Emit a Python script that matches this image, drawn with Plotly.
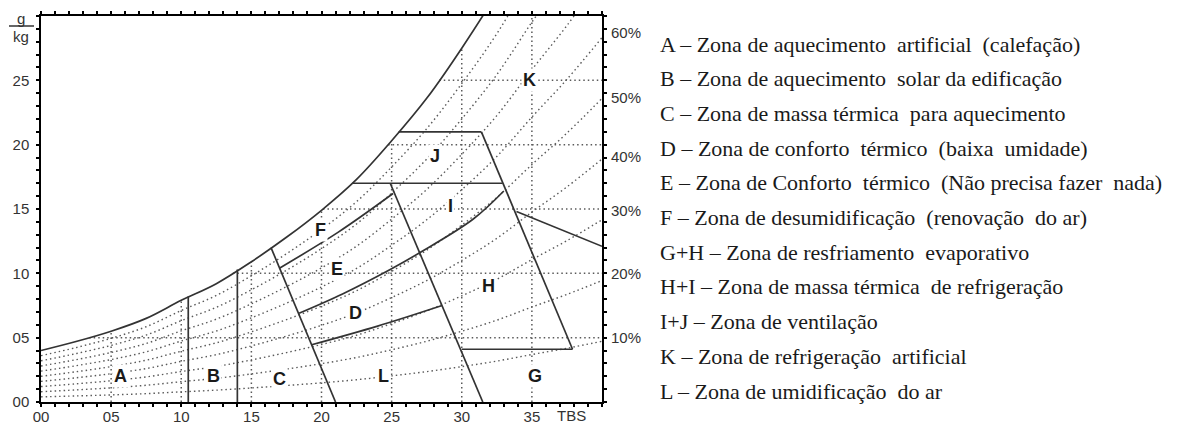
import numpy as np
import plotly.graph_objects as go

# saturation curve (TBS in C, humidity in g/kg)
sat_t = [0, 2.5, 5, 7.5, 10, 12.5, 15, 17.5, 20, 22.5, 25, 27.5, 30, 32.5, 35, 37.5, 40]
sat_w = [4.0, 4.7, 5.5, 6.5, 7.9, 9.2, 10.9, 12.8, 14.9, 17.3, 20.3, 23.6, 27.5, 31.8, 36.9, 41.8, 47.2]

# relative humidity curves (dotted)
rh_levels = [10, 20, 30, 40, 50, 60, 70, 80, 90]
rh_label_text = ["10%", "20%", "30%", "40%", "50%", "60%"]
rh_label_y = [5.0, 10.0, 14.9, 19.1, 23.7, 28.7]

grid_x = [5, 10, 15, 20, 25, 30, 35]
grid_y = [5, 10, 15, 20, 25]

x_label_vals = [0, 5, 10, 15, 20, 25, 30, 35]
x_label_text = ["00", "05", "10", "15", "20", "25", "30", "35"]
y_label_vals = [0, 5, 10, 15, 20, 25]
y_label_text = ["00", "05", "10", "15", "20", "25"]

# zone boundaries
ab_x, ab_y = [10.5, 10.5], [0, 8.2]
bc_x, bc_y = [14.0, 14.0], [0, 10.3]
c_x, c_y = [16.4, 21.0], [12.0, 0]
ei_x, ei_y = [24.9, 31.5], [17.0, 0]
j_bot_x, j_bot_y = [22.2, 32.9], [17.0, 17.0]
j_top_x, j_top_y = [25.5, 31.4], [21.0, 21.0]
right_x, right_y = [31.4, 37.9], [21.0, 4.1]
g_top_x, g_top_y = [30.0, 37.9], [4.1, 4.1]
k_x, k_y = [33.9, 40.0], [14.8, 12.1]
fe_x, fe_y = [17.0, 21.2, 25.1], [10.4, 13.2, 16.2]
ed_x, ed_y = [18.4, 21.5, 24.9, 27.0, 30.8, 33.0], [6.9, 8.4, 10.3, 11.6, 14.2, 16.4]
dl_x, dl_y = [19.3, 24.0, 28.6], [4.45, 5.9, 7.5]

straight = [(ab_x, ab_y), (bc_x, bc_y), (c_x, c_y), (ei_x, ei_y), (j_bot_x, j_bot_y),
            (j_top_x, j_top_y), (right_x, right_y), (g_top_x, g_top_y), (k_x, k_y)]
curved = [(fe_x, fe_y), (ed_x, ed_y), (dl_x, dl_y)]

zone_letters = ["A", "B", "C", "D", "E", "F", "G", "H", "I", "J", "K", "L"]
zone_x = [5.7, 12.3, 17.0, 22.4, 21.1, 19.9, 35.2, 31.9, 29.2, 28.1, 34.8, 24.4]
zone_y = [2.0, 2.0, 1.8, 6.9, 10.3, 13.4, 2.0, 9.0, 15.2, 19.1, 25.0, 2.0]

legend_lines = [
    "A – Zona de aquecimento  artificial  (calefação)",
    "B – Zona de aquecimento  solar da edificação",
    "C – Zona de massa térmica  para aquecimento",
    "D – Zona de conforto  térmico  (baixa  umidade)",
    "E – Zona de Conforto  térmico  (Não precisa fazer  nada)",
    "F – Zona de desumidificação  (renovação  do ar)",
    "G+H – Zona de resfriamento  evaporativo",
    "H+I – Zona de massa térmica  de refrigeração",
    "I+J – Zona de ventilação",
    "K – Zona de refrigeração  artificial",
    "L – Zona de umidificação  do ar",
]

line_col = "#333333"
dot_col = "#5a5a5a"
dots = "1.5px,3px"
tick_font = dict(family="Liberation Sans", size=15, color="#333333")

fig = go.Figure()

for rh in rh_levels:
    fig.add_trace(go.Scatter(x=sat_t, y=[rh / 100 * w for w in sat_w], mode="lines",
                             line=dict(color=dot_col, width=1.4, dash=dots, shape="spline"),
                             hoverinfo="skip", showlegend=False))

for gx in grid_x:
    top = float(np.interp(gx, sat_t, sat_w))
    fig.add_trace(go.Scatter(x=[gx, gx], y=[0, top], mode="lines",
                             line=dict(color=dot_col, width=1.5, dash=dots),
                             hoverinfo="skip", showlegend=False))
for gy in grid_y:
    left = float(np.interp(gy, sat_w, sat_t))
    fig.add_trace(go.Scatter(x=[left, 40], y=[gy, gy], mode="lines",
                             line=dict(color=dot_col, width=1.5, dash=dots),
                             hoverinfo="skip", showlegend=False))

fig.add_trace(go.Scatter(x=sat_t, y=sat_w, mode="lines",
                         line=dict(color=line_col, width=1.7, shape="spline"),
                         hoverinfo="skip", showlegend=False))

for xs, ys in straight:
    fig.add_trace(go.Scatter(x=xs, y=ys, mode="lines", line=dict(color=line_col, width=1.7),
                             hoverinfo="skip", showlegend=False))
for xs, ys in curved:
    fig.add_trace(go.Scatter(x=xs, y=ys, mode="lines",
                             line=dict(color=line_col, width=1.7, shape="spline"),
                             hoverinfo="skip", showlegend=False))

annotations = []
for letter, zx, zy in zip(zone_letters, zone_x, zone_y):
    annotations.append(dict(x=zx, y=zy, xref="x", yref="y", text="<b>" + letter + "</b>",
                            xanchor="center", yanchor="middle",
                            showarrow=False, bgcolor="white", borderpad=1,
                            font=dict(family="Liberation Sans", size=18, color="#1a1a1a")))

for txt, ly in zip(rh_label_text, rh_label_y):
    annotations.append(dict(x=1, y=ly, xref="paper", yref="y", text=txt, xanchor="left",
                            yanchor="middle", xshift=7, showarrow=False, font=tick_font))

annotations.append(dict(x=37.8, y=0, xref="x", yref="paper", xanchor="center",
                        yanchor="middle", yshift=-13, text="TBS", showarrow=False,
                        font=tick_font))
annotations.append(dict(x=0, y=1, xref="paper", yref="paper", xanchor="center",
                        yanchor="middle", xshift=-20, yshift=-2,
                        text="g", showarrow=False, font=tick_font))
annotations.append(dict(x=0, y=1, xref="paper", yref="paper", xanchor="center",
                        yanchor="middle", xshift=-20, yshift=-20,
                        text="kg", showarrow=False, font=tick_font))

for i, txt in enumerate(legend_lines):
    annotations.append(dict(x=1, y=1, xref="paper", yref="paper", xanchor="left",
                            yanchor="middle", xshift=56, yshift=-(28 + 34.7 * i),
                            text=txt.replace("  ", "\u00a0 "), showarrow=False,
                            font=dict(family="Liberation Serif", size=22, color="#1a1a1a")))

# page body adds an 8px offset, so the figure is sized to the visible window
fig.update_layout(
    width=1193, height=417,
    margin=dict(l=33, r=599, t=8, b=23),
    paper_bgcolor="white", plot_bgcolor="white",
    annotations=annotations,
    shapes=[dict(type="line", xref="paper", yref="paper", x0=-32 / 561, x1=-7 / 561,
                 y0=1 - 10 / 386, y1=1 - 10 / 386, line=dict(color="#333333", width=1.5))],
)

fig.update_xaxes(range=[0, 40], tickvals=list(range(41)), automargin=False,
                 ticktext=[x_label_text[x_label_vals.index(v)] if v in x_label_vals else "" for v in range(41)],
                 showgrid=False, zeroline=False, showline=True, mirror="ticks",
                 linecolor="black", linewidth=1.5, ticks="outside", ticklen=3,
                 tickcolor="black", tickwidth=1.5, ticklabelstandoff=-3, tickfont=tick_font)
fig.update_yaxes(range=[0, 30], tickvals=list(range(31)), automargin=False,
                 ticktext=[y_label_text[y_label_vals.index(v)] if v in y_label_vals else "" for v in range(31)],
                 showgrid=False, zeroline=False, showline=True, mirror="ticks",
                 linecolor="black", linewidth=1.5, ticks="outside", ticklen=3,
                 tickcolor="black", tickwidth=1.5, ticklabelstandoff=4, tickfont=tick_font)

fig.write_html("out.html")
